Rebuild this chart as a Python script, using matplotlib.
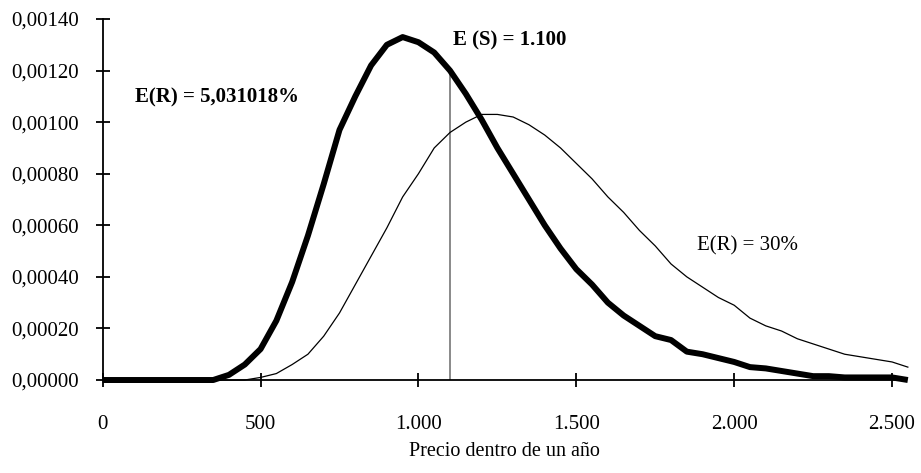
import matplotlib.pyplot as plt
from matplotlib.ticker import FuncFormatter, MultipleLocator

# Price grid (every 50)
precios = list(range(0, 2551, 50))

# Density for E(R) = 5,031018% (thick line)
dens_bajo = [0, 0, 0, 0, 0, 0, 0, 0, 0.00002, 0.00006,
             0.00012, 0.00023, 0.00038, 0.00056, 0.00076, 0.00097, 0.00110, 0.00122, 0.00130, 0.00133,
             0.00131, 0.00127, 0.00120, 0.00111, 0.00101, 0.00090, 0.00080, 0.00070, 0.00060, 0.00051,
             0.00043, 0.00037, 0.00030, 0.00025, 0.00021, 0.00017, 0.000155, 0.00011, 0.00010, 0.000085,
             0.00007, 0.00005, 0.000045, 0.000035, 0.000025, 0.000015, 0.000015, 0.00001, 0.00001, 0.00001,
             0.00001, 0.0]

# Density for E(R) = 30% (thin line)
dens_alto = [0, 0, 0, 0, 0, 0, 0, 0, 0, 0,
             0.00001, 0.000025, 0.00006, 0.00010, 0.00017, 0.00026, 0.00037, 0.00048, 0.00059, 0.00071,
             0.00080, 0.00090, 0.00096, 0.00100, 0.00103, 0.00103, 0.00102, 0.00099, 0.00095, 0.00090,
             0.00084, 0.00078, 0.00071, 0.00065, 0.00058, 0.00052, 0.00045, 0.00040, 0.00036, 0.00032,
             0.00029, 0.00024, 0.00021, 0.00019, 0.00016, 0.00014, 0.00012, 0.00010, 0.00009, 0.00008,
             0.00007, 0.00005]

precio_esperado = 1100
dens_esperado = 0.00120

plt.rcParams['font.family'] = ['Liberation Serif', 'DejaVu Serif']

fig = plt.figure(figsize=(9.21, 4.73), dpi=100)
ax = fig.add_axes([0.1115, 0.1966, 0.8725, 0.7632])

ax.plot(precios, dens_alto, color='black', lw=0.9, clip_on=False, zorder=3)
ax.plot(precios, dens_bajo, color='black', lw=4.3, solid_joinstyle='round',
        solid_capstyle='butt', clip_on=False, zorder=4)
ax.plot([precio_esperado, precio_esperado], [0, dens_esperado], color='#808080', lw=1.3, zorder=2)

ax.set_xlim(0, 2545)
ax.set_ylim(0, 0.0014)

ax.xaxis.set_major_locator(MultipleLocator(500))
ax.yaxis.set_major_locator(MultipleLocator(0.0002))
ax.xaxis.set_major_formatter(FuncFormatter(lambda v, p: f"{int(v):,}".replace(',', '.')))
ax.yaxis.set_major_formatter(FuncFormatter(lambda v, p: f"{v:.5f}".replace('.', ',')))

for s in ['top', 'right']:
    ax.spines[s].set_visible(False)
for s in ['left', 'bottom']:
    ax.spines[s].set_linewidth(1.3)

ax.tick_params(axis='both', direction='inout', length=10, width=1.3, labelsize=15)
ax.tick_params(axis='x', pad=20)
ax.tick_params(axis='y', pad=12)

ax.set_xlabel('Precio dentro de un año', fontsize=14.5, labelpad=6)

ax.text(102, 0.001097, 'E(R) = 5,031018%', fontsize=15, fontweight='bold', va='center', ha='left')
ax.text(1109, 0.001318, 'E (S) = 1.100', fontsize=15, fontweight='bold', va='center', ha='left')
ax.text(1881, 0.00052, 'E(R) = 30%', fontsize=15, va='center', ha='left')

fig.savefig('out.png', dpi=100)
